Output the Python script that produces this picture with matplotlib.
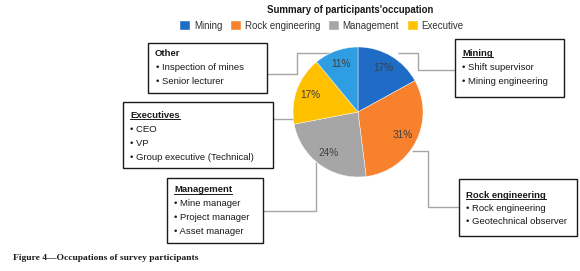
import matplotlib
matplotlib.use("Agg")
import matplotlib.pyplot as plt
from matplotlib.patches import Rectangle

# ---- data ----
categories = ["Mining", "Rock engineering", "Management", "Executive", "Other"]
shares = [17, 31, 24, 17, 11]
colors = ["#1F6CC6", "#F7812C", "#A6A6A6", "#FFC000", "#2F9DE2"]
legend_categories = categories[:4]

title = "Summary of participants'occupation"
caption = "Figure 4\u2014Occupations of survey participants"

box_headers = ["Other", "Mining", "Executives", "Management", "Rock engineering"]
box_items = [
    ["Inspection of mines", "Senior lecturer"],
    ["Shift supervisor", "Mining engineering"],
    ["CEO", "VP", "Group executive (Technical)"],
    ["Mine manager", "Project manager", "Asset manager"],
    ["Rock engineering", "Geotechnical observer"],
]
box_underline = [False, True, True, True, True]

# ---- layout (pixel coordinates, y down) ----
W, H = 580, 271
boxes = [
    (148, 43, 267, 93),
    (455, 39, 564, 97),
    (123, 102, 273, 168),
    (167, 178, 263, 243),
    (459, 179, 577, 236),
]
header_pos = [(155, 53), (462, 53), (130, 115), (174, 190), (466, 195)]
line_step = [14.5, 14.5, 14, 14, 13.5]
connectors = [
    [(267, 74), (297, 74), (297, 53), (330, 53)],
    [(398, 53), (418, 53), (418, 70), (455, 70)],
    [(273, 119), (296, 119)],
    [(263, 211), (316, 211), (316, 162)],
    [(459, 207), (428, 207), (428, 151), (412, 151)],
]
pie_c = (358, 112)
pie_r = 65

sans = ["Liberation Sans", "DejaVu Sans"]

fig = plt.figure(figsize=(W / 100, H / 100), dpi=100)
ax = fig.add_axes([0, 0, 1, 1])
ax.set_xlim(0, W)
ax.set_ylim(H, 0)
ax.axis("off")

# connectors
for pts in connectors:
    xs = [p[0] for p in pts]
    ys = [p[1] for p in pts]
    ax.plot(xs, ys, color="#A6A6A6", lw=1.0, solid_capstyle="butt", zorder=1)

# pie
pax = fig.add_axes([(pie_c[0] - pie_r) / W, (H - pie_c[1] - pie_r) / H,
                    2 * pie_r / W, 2 * pie_r / H])
pax.set_zorder(2)
wedges, texts, autotexts = pax.pie(
    shares, colors=colors, startangle=90, counterclock=False,
    autopct=lambda p: f"{p:.0f}%", pctdistance=0.78,
    wedgeprops=dict(edgecolor="white", linewidth=0.3),
    textprops=dict(color="#404040", fontsize=7.2, family=sans))
pax.set_xlim(-1, 1)
pax.set_ylim(-1, 1)
pax.set_aspect("auto")
pax.axis("off")

# boxes and texts
fs = 6.8
header_texts = []
for (x0, y0, x1, y1), (hx, hy), hdr, items, step, ul in zip(
        boxes, header_pos, box_headers, box_items, line_step, box_underline):
    ax.add_patch(Rectangle((x0, y0), x1 - x0, y1 - y0, facecolor="white",
                           edgecolor="#1a1a1a", lw=1.0, zorder=3))
    t = ax.text(hx, hy, hdr, fontsize=fs, fontweight="bold", family=sans,
                va="center", ha="left", color="#1a1a1a", zorder=4)
    header_texts.append((t, ul))
    for i, it in enumerate(items):
        ax.text(hx + 0.5, hy + step * (i + 1), "\u2022 " + it, fontsize=fs,
                family=sans, va="center", ha="left", color="#1a1a1a", zorder=4)

# title
ax.text(350, 10, title, fontsize=6.9, fontweight="bold", family=sans,
        ha="center", va="center", color="#1a1a1a")

# legend
leg = fig.legend(wedges[:4], legend_categories, ncol=4, loc="center",
                 bbox_to_anchor=(322 / W, 1 - 26 / H), frameon=False,
                 prop=dict(family=sans, size=7.0), handlelength=1.0,
                 handleheight=1.0, handletextpad=0.4, columnspacing=0.9,
                 labelcolor="#333333")

# caption
ax.text(13, 258, caption, fontsize=6.8, fontweight="bold",
        family=["Liberation Serif", "DejaVu Serif"], ha="left", va="center",
        color="#1a1a1a")

# underline headers
fig.canvas.draw()
r = fig.canvas.get_renderer()
inv = ax.transData.inverted()
for t, ul in header_texts:
    if not ul:
        continue
    bb = t.get_window_extent(renderer=r)
    (xa, ya), (xb, yb) = inv.transform([(bb.x0, bb.y0), (bb.x1, bb.y1)])
    yl = max(ya, yb) - 1.0
    ax.plot([xa, xb], [yl, yl], color="#1a1a1a", lw=0.7, zorder=4)

fig.savefig("out.png", dpi=100)
